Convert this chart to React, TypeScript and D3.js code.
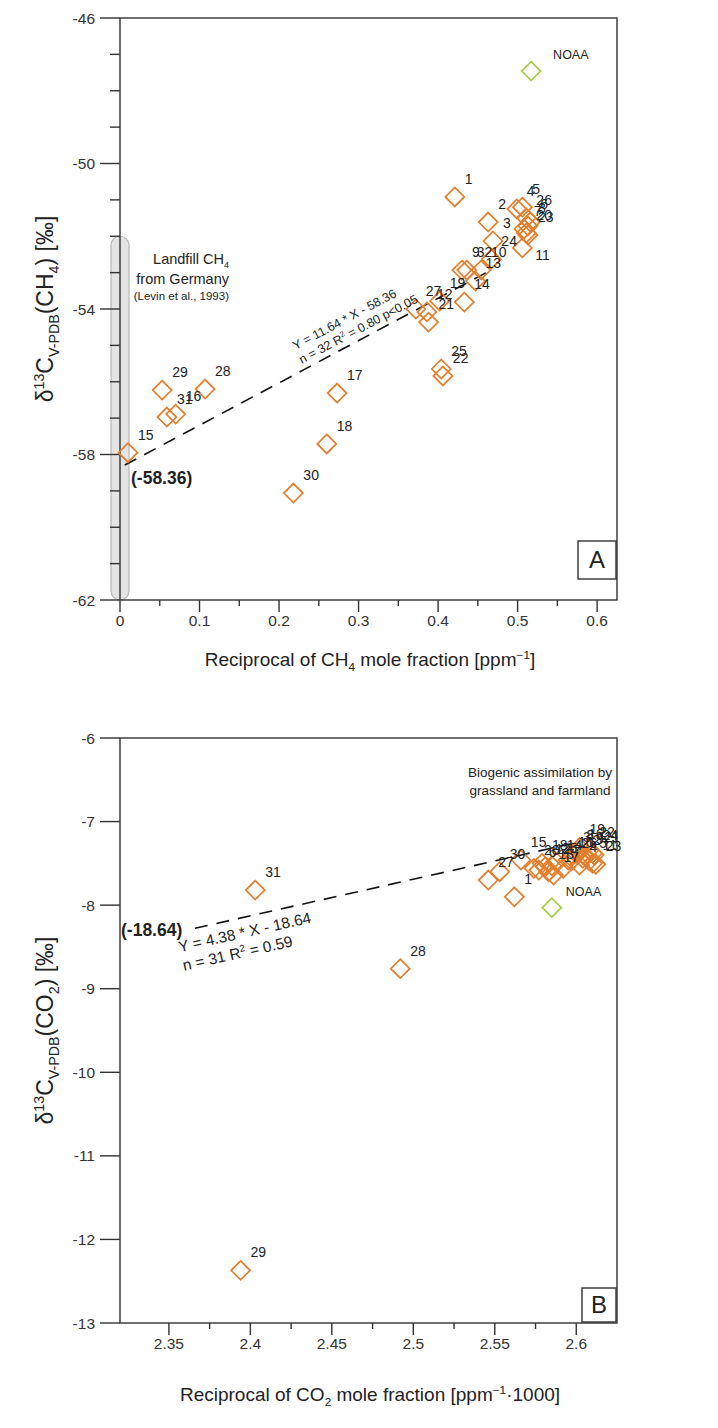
import React from "react";
import * as d3 from "d3";

const FONT = "'Liberation Sans', Arial, Helvetica, sans-serif";
const ORANGE = "#e47d2c";
const GREEN = "#a6cd48";
const INK = "#222";
const AXIS = "#333";

// ---------- panel A : CH4 ----------
const ch4Labels = ["1", "2", "3", "4", "5", "6", "7", "8", "9", "10", "11", "12", "13", "14", "15", "16",
  "17", "18", "19", "20", "21", "22", "23", "24", "25", "26", "27", "28", "29", "30", "31", "32"];
const ch4X = [0.421, 0.463, 0.469, 0.499, 0.506, 0.516, 0.508, 0.513, 0.430, 0.454, 0.506, 0.386, 0.447, 0.433, 0.010, 0.070,
  0.273, 0.260, 0.402, 0.511, 0.388, 0.406, 0.513, 0.467, 0.404, 0.511, 0.372, 0.107, 0.053, 0.218, 0.059, 0.436];
const ch4Y = [-50.92, -51.61, -52.13, -51.25, -51.2, -51.61, -51.8, -51.72, -52.93, -52.93, -52.32, -54.08, -53.23, -53.81, -57.95, -56.89,
  -56.31, -57.71, -53.78, -51.91, -54.36, -55.84, -51.97, -52.63, -55.65, -51.5, -54.0, -56.2, -56.23, -59.06, -56.97, -52.93];
const ch4Noaa = [0.517, -47.46];
const ch4Slope = 11.64;
const ch4Intercept = -58.36;
const ch4FitRange = [0.006, 0.46];
const ch4XTicks = [0, 0.1, 0.2, 0.3, 0.4, 0.5, 0.6];
const ch4XTickLabels = ["0", "0.1", "0.2", "0.3", "0.4", "0.5", "0.6"];
const ch4XMinor = [0.05, 0.15, 0.25, 0.35, 0.45, 0.55];
const ch4YTicks = [-46, -50, -54, -58, -62];
const ch4YTickLabels = ["-46", "-50", "-54", "-58", "-62"];
const ch4YMinor = [-47, -48, -49, -51, -52, -53, -55, -56, -57, -59, -60, -61];
const landfillRange = [-62, -52];

// ---------- panel B : CO2 ----------
const co2Labels = ["1", "2", "3", "4", "5", "6", "7", "8", "9", "10", "11", "12", "13", "14", "15", "16",
  "17", "18", "19", "20", "21", "22", "23", "24", "25", "26", "27", "28", "29", "30", "31"];
const co2X = [2.562, 2.604, 2.598, 2.602, 2.608, 2.577, 2.592, 2.6, 2.606, 2.595, 2.61, 2.581, 2.583, 2.588, 2.566, 2.601,
  2.586, 2.579, 2.602, 2.574, 2.611, 2.608, 2.612, 2.61, 2.585, 2.597, 2.546, 2.492, 2.394, 2.553, 2.403];
const co2Y = [-7.9, -7.44, -7.4, -7.52, -7.47, -7.58, -7.56, -7.38, -7.42, -7.46, -7.5, -7.54, -7.6, -7.49, -7.46, -7.36,
  -7.64, -7.5, -7.31, -7.56, -7.4, -7.34, -7.51, -7.38, -7.53, -7.47, -7.7, -8.76, -12.37, -7.6, -7.82];
const co2Noaa = [2.585, -8.03];
const co2Slope = 4.38;
const co2Intercept = -18.64;
const co2FitRange = [2.366, 2.6];
const co2XTicks = [2.35, 2.4, 2.45, 2.5, 2.55, 2.6];
const co2XTickLabels = ["2.35", "2.4", "2.45", "2.5", "2.55", "2.6"];
const co2XMinor = [2.375, 2.425, 2.475, 2.525, 2.575];
const co2YTicks = [-6, -7, -8, -9, -10, -11, -12, -13];
const co2YTickLabels = ["-6", "-7", "-8", "-9", "-10", "-11", "-12", "-13"];

type Seg = [string, "n" | "b" | "p"];

// sub/superscript runs as tspans
function rich(segs: Seg[], fs: number) {
  let off = 0;
  return segs.map(([t, k], i) => {
    const target = k === "b" ? 0.28 * fs : k === "p" ? -0.38 * fs : 0;
    const dy = target - off;
    off = target;
    return (
      <tspan key={i} dy={dy} fontSize={k === "n" ? fs : fs * 0.62}>
        {t}
      </tspan>
    );
  });
}

const R = 9.5;
const diamondPath = d3.line().curve(d3.curveLinearClosed)([[0, -R], [R, 0], [0, R], [-R, 0]]) as string;

function Panel(p: any) {
  const { x, y } = p;
  const [x0, x1] = x.range();
  const [yb, yt] = y.range();
  const fit = d3.line<number>()
    .x((v) => x(v))
    .y((v) => y(p.slope * v + p.intercept));
  return (
    <g fontFamily={FONT}>
      {p.back}
      <rect x={x0} y={yt} width={x1 - x0} height={yb - yt} fill="none" stroke={AXIS} strokeWidth={1.4} />
      {p.yMajor.map((v: number, i: number) => (
        <g key={"ym" + i}>
          <line x1={x0 - 20} x2={x0} y1={y(v)} y2={y(v)} stroke={AXIS} strokeWidth={1.4} />
          <text x={x0 - 25} y={y(v)} dy="0.36em" textAnchor="end" fontSize={15.5} fill={AXIS}>
            {p.yLabels[i]}
          </text>
        </g>
      ))}
      {(p.yMinor || []).map((v: number, i: number) => (
        <line key={"yn" + i} x1={x0 - 10} x2={x0} y1={y(v)} y2={y(v)} stroke={AXIS} strokeWidth={1.4} />
      ))}
      {p.xMajor.map((v: number, i: number) => (
        <g key={"xm" + i}>
          <line x1={x(v)} x2={x(v)} y1={yb} y2={yb + 12} stroke={AXIS} strokeWidth={1.4} />
          <text x={x(v)} y={yb + 26} textAnchor="middle" fontSize={15.5} fill={AXIS}>
            {p.xLabels[i]}
          </text>
        </g>
      ))}
      {p.xMinor.map((v: number, i: number) => (
        <line key={"xn" + i} x1={x(v)} x2={x(v)} y1={yb} y2={yb + 6} stroke={AXIS} strokeWidth={1.4} />
      ))}
      <path d={fit(p.fitRange) as string} fill="none" stroke="#111" strokeWidth={1.6} strokeDasharray="13 9" />
      <path d={diamondPath} transform={`translate(${x(p.noaa[0])},${y(p.noaa[1])})`} fill="none" stroke={GREEN} strokeWidth={1.7} />
      <text x={x(p.noaa[0]) + p.noaaDx} y={y(p.noaa[1]) - 12} fontSize={12.5} fill={INK}>NOAA</text>
      {p.xs.map((v: number, i: number) => (
        <path key={"pt" + i} d={diamondPath} transform={`translate(${x(v)},${y(p.ys[i])})`} fill="none" stroke={ORANGE} strokeWidth={1.7} />
      ))}
      {p.xs.map((v: number, i: number) => {
        const n = (p.nudge && p.nudge[p.ids[i]]) || [10, -13];
        return (
          <text key={"lb" + i} x={x(v) + n[0]} y={y(p.ys[i]) + n[1]} fontSize={14} fill={INK}>
            {p.ids[i]}
          </text>
        );
      })}
      {p.children}
    </g>
  );
}

export default function App() {
  const left = 120;
  const right = 617;
  const xA = d3.scaleLinear().domain([0, 0.625]).range([left, right]);
  const yA = d3.scaleLinear().domain([-62, -46]).range([600, 18]);
  const xB = d3.scaleLinear().domain([2.32, 2.625]).range([left, right]);
  const yB = d3.scaleLinear().domain([-13, -6]).range([1323, 738]);

  const angle = (x: any, y: any, s: number, b: number, a0: number, a1: number) =>
    (Math.atan2(y(s * a1 + b) - y(s * a0 + b), x(a1) - x(a0)) * 180) / Math.PI;
  const angA = angle(xA, yA, ch4Slope, ch4Intercept, 0, 0.5);
  const angB = angle(xB, yB, co2Slope, co2Intercept, 2.35, 2.6);
  const eqAx = xA.invert(294);
  const eqA = [xA(eqAx), yA(ch4Slope * eqAx + ch4Intercept)];
  const eqB = [xB(co2FitRange[0]), yB(co2Slope * co2FitRange[0] + co2Intercept)];

  const barW = 18;
  const back = (
    <rect
      x={xA(0) - barW / 2}
      y={yA(landfillRange[1])}
      width={barW}
      height={yA(landfillRange[0]) - yA(landfillRange[1])}
      rx={barW / 2}
      fill="#e4e4e4"
      stroke="#b8b8b8"
      strokeWidth={1.2}
    />
  );
  const mid = 370;

  return (
    <svg width={718} height={1428} style={{ position: "absolute", left: 0, top: 0, background: "#fff" }}>
      <rect width={718} height={1428} fill="#fff" />
      <Panel
        x={xA} y={yA}
        xMajor={ch4XTicks} xLabels={ch4XTickLabels} xMinor={ch4XMinor}
        yMajor={ch4YTicks} yLabels={ch4YTickLabels} yMinor={ch4YMinor}
        ids={ch4Labels} xs={ch4X} ys={ch4Y} noaa={ch4Noaa} noaaDx={22}
        slope={ch4Slope} intercept={ch4Intercept} fitRange={ch4FitRange}
        nudge={{ "11": [13, 12] }}
        back={back}
      >
        <g fill={INK} textAnchor="end">
          <text x={229} y={264} fontSize={14.5}>{rich([["Landfill CH", "n"], ["4", "b"]], 14.5)}</text>
          <text x={229} y={284} fontSize={14.5}>from Germany</text>
          <text x={229} y={300} fontSize={11.5}>(Levin et al., 1993)</text>
        </g>
        <g transform={`translate(${eqA[0]},${eqA[1]}) rotate(${angA})`} fontSize={12.5} fill={INK}>
          <text x={13} y={-21}>Y = 11.64 * X - 58.36</text>
          <text x={12} y={-6}>{rich([["n = 32 R", "n"], ["2", "p"], [" = 0.80 p<0.05", "n"]], 12.5)}</text>
        </g>
        <text x={131} y={484} fontSize={17.5} fontWeight="bold" fill={INK}>(-58.36)</text>
        <rect x={right - 39} y={541} width={38} height={38} fill="#fff" stroke={AXIS} strokeWidth={1.4} />
        <text x={right - 20} y={568} fontSize={24} textAnchor="middle" fill={INK}>A</text>
        <text x={mid} y={666} fontSize={19} textAnchor="middle" fill={INK}>
          {rich([["Reciprocal of CH", "n"], ["4", "b"], [" mole fraction [ppm", "n"], ["\u22121", "p"], ["]", "n"]], 19)}
        </text>
        <text transform={`translate(53,${(18 + 600) / 2}) rotate(-90)`} fontSize={23} textAnchor="middle" fill={INK}>
          {rich([["\u03b4", "n"], ["13", "p"], ["C", "n"], ["V-PDB", "b"], ["(CH", "n"], ["4", "b"], [") [\u2030]", "n"]], 23)}
        </text>
      </Panel>

      <Panel
        x={xB} y={yB}
        xMajor={co2XTicks} xLabels={co2XTickLabels} xMinor={co2XMinor}
        yMajor={co2YTicks} yLabels={co2YTickLabels}
        ids={co2Labels} xs={co2X} ys={co2Y} noaa={co2Noaa} noaaDx={14}
        slope={co2Slope} intercept={co2Intercept} fitRange={co2FitRange}
      >
        <g fontSize={13.5} fill={INK} textAnchor="middle">
          <text x={540} y={777}>Biogenic assimilation by</text>
          <text x={540} y={795}>grassland and farmland</text>
        </g>
        <g transform={`translate(${eqB[0]},${eqB[1]}) rotate(${angB})`} fontSize={15.5} fill={INK}>
          <text x={-20} y={20}>Y = 4.38 * X - 18.64</text>
          <text x={-20} y={39}>{rich([["n = 31 R", "n"], ["2", "p"], [" = 0.59", "n"]], 15.5)}</text>
        </g>
        <text x={121} y={936} fontSize={17.5} fontWeight="bold" fill={INK}>(-18.64)</text>
        <rect x={right - 35} y={1288} width={34} height={34} fill="#fff" stroke={AXIS} strokeWidth={1.4} />
        <text x={right - 18} y={1313} fontSize={24} textAnchor="middle" fill={INK}>B</text>
        <text x={mid} y={1401} fontSize={19} textAnchor="middle" fill={INK}>
          {rich([["Reciprocal of CO", "n"], ["2", "b"], [" mole fraction [ppm", "n"], ["\u22121", "p"], ["\u00b71000]", "n"]], 19)}
        </text>
        <text transform={`translate(53,${(738 + 1323) / 2}) rotate(-90)`} fontSize={23} textAnchor="middle" fill={INK}>
          {rich([["\u03b4", "n"], ["13", "p"], ["C", "n"], ["V-PDB", "b"], ["(CO", "n"], ["2", "b"], [") [\u2030]", "n"]], 23)}
        </text>
      </Panel>
    </svg>
  );
}
